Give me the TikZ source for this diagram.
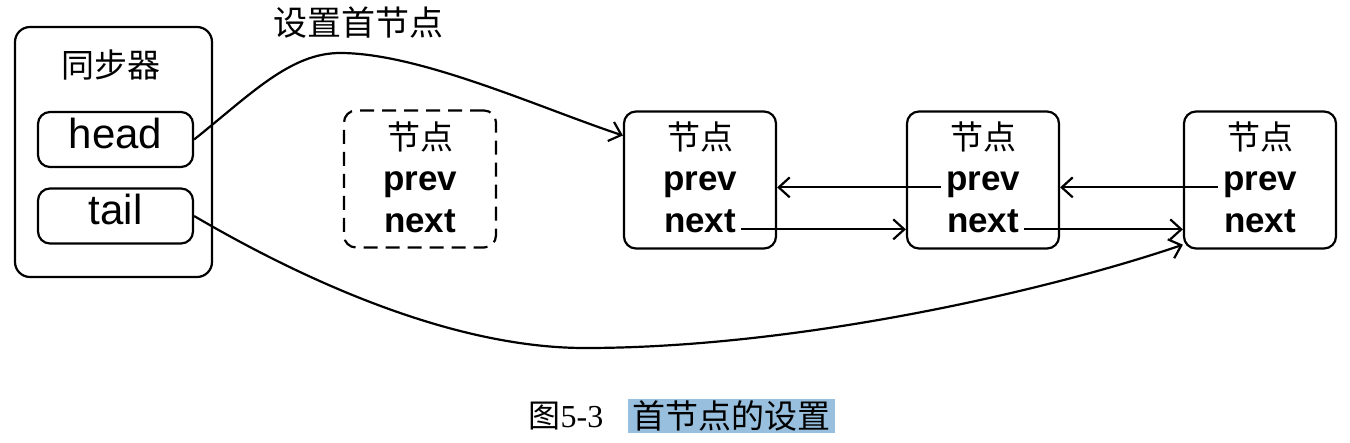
\documentclass[tikz,border=0pt]{standalone}
\usepackage{fontspec}
\setmainfont{Liberation Sans}
\newfontfamily\cjk{Noto Sans CJK SC}
\newfontfamily\numfont{Liberation Serif}
\usetikzlibrary{arrows.meta}
\definecolor{capblue}{RGB}{152,192,222}

\begin{document}
\begin{tikzpicture}[
		x=1pt, y=-1pt,
		line width=2.2pt,
		box/.style={draw, rounded corners=12pt, minimum width=152pt, minimum height=137pt, inner sep=0pt},
		slot/.style={draw, rounded corners=12pt, minimum width=155pt, minimum height=55pt, inner sep=0pt,
			text height=29pt, text depth=12pt, font=\fontsize{42}{42}\selectfont},
		zh/.style={font=\cjk\fontsize{33}{33}\selectfont, inner sep=0pt},
		field/.style={font=\bfseries\fontsize{35}{35}\selectfont, inner sep=4pt, anchor=base},
		arr/.style={-{Straight Barb[length=11pt, width=20pt]}}
	]
	\useasboundingbox (0,0) rectangle (1350,442);

	% synchronizer
	\node[draw, rounded corners=15pt, minimum width=197pt, minimum height=250pt] (sync) at (113.5,152) {};
	\node[zh] (syncLbl) at (111,65) {同步器};
	\node[slot] (head) at (115.5,139.5) {head};
	\node[slot] (tail) at (115.5,216) {tail};

	% old head (dashed) and the list
	\node[box, dash pattern=on 14pt off 8pt] (n1) at (420,179) {};
	\node[zh] (t1) at (420,137) {节点};
	\node[field] (p1) at (420,190) {prev};
	\node[field] (x1) at (420,232) {next};
	\foreach \i/\x in {2/700, 3/983, 4/1260} {
		\node[box] (n\i) at (\x,180) {};
		\node[zh] (t\i) at (\x,137) {节点};
		\node[field] (p\i) at (\x,190) {prev};
		\node[field] (x\i) at (\x,232) {next};
	}

	\draw[arr] (p3.mid west) -- (p3.mid west -| n2.east);
	\draw[arr] (p4.mid west) -- (p4.mid west -| n3.east);
	\draw[arr] (x2.mid east) -- (x2.mid east -| n3.west);
	\draw[arr] (x3.mid east) -- (x3.mid east -| n4.west);

	% head / tail pointers
	\node[zh, font=\cjk\fontsize{34}{34}\selectfont] (setLbl) at (358,23) {设置首节点};
	\draw[arr] (head.east) .. controls (250,95) and (290,53) .. (340,53)
		.. controls (420,53) and (540,108) .. (n2.150);
	\draw[arr] (tail.east) .. controls (300,278) and (450,348) .. (585,348)
		.. controls (800,348) and (1050,290) .. (n4.220);

	% caption
	\node[inner sep=0pt, font=\fontsize{32}{32}\selectfont] (figNo) at (566,416) {{\cjk 图}{\numfont 5-3}};
	\node[fill=capblue, minimum width=207pt, minimum height=34pt, inner sep=0pt,
		font=\cjk\fontsize{33}{33}\selectfont] (caption) at (731.5,416) {首节点的设置};
\end{tikzpicture}
\end{document}
